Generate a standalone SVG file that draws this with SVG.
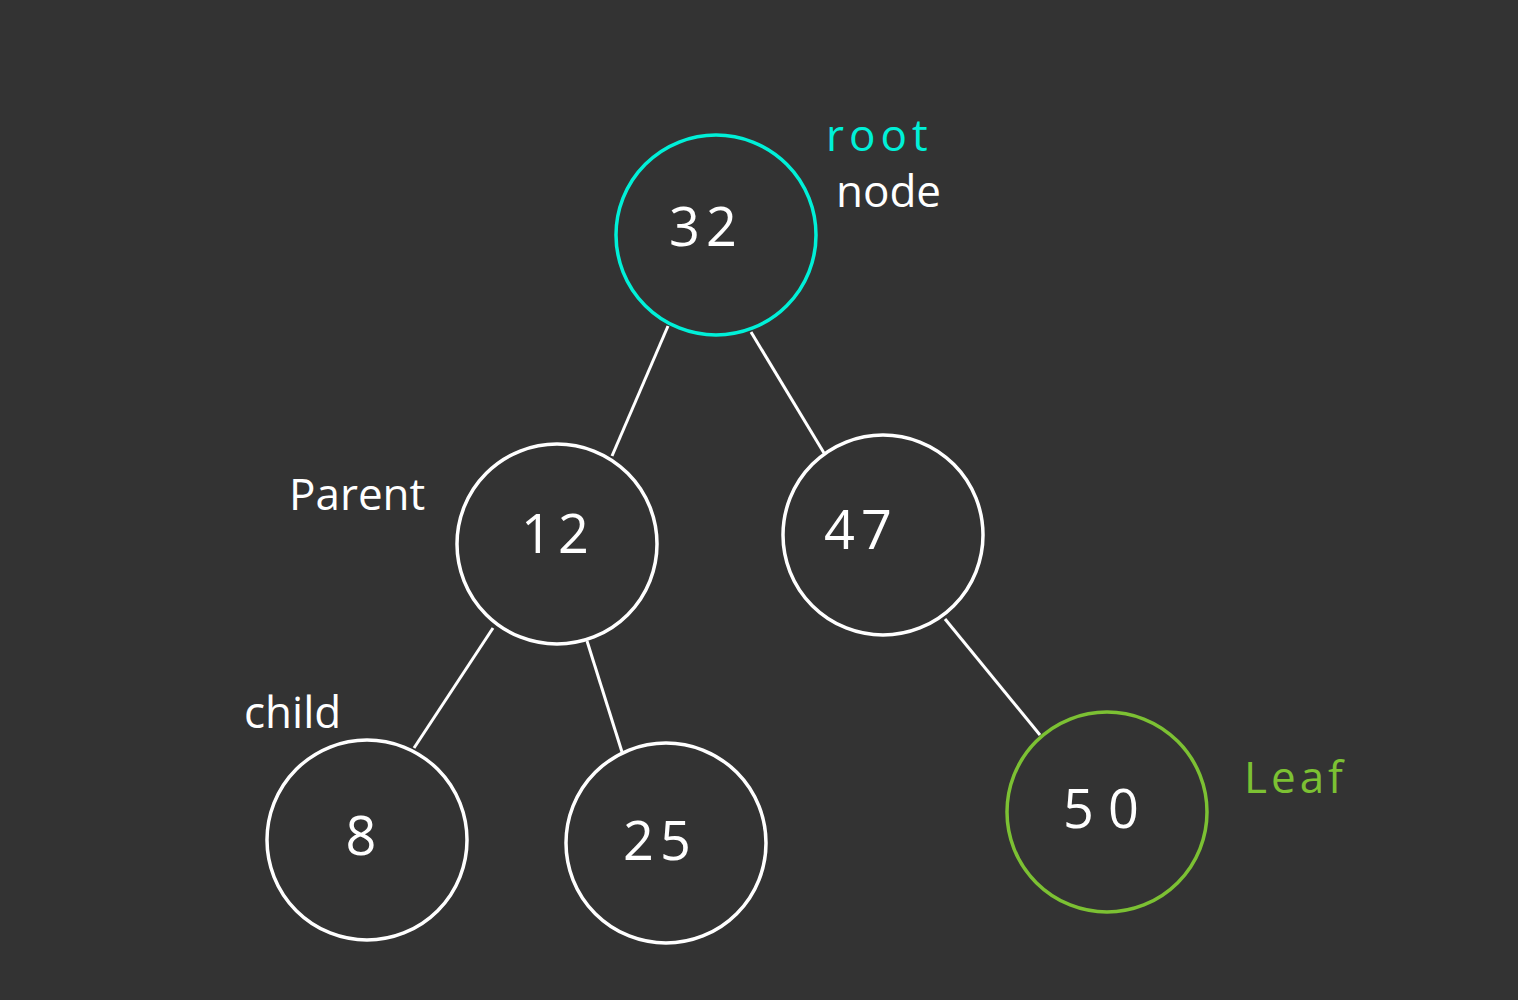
<svg xmlns="http://www.w3.org/2000/svg" width="1518" height="1000" viewBox="0 0 1518 1000">
<style>
.node{fill:none;stroke:#ffffff;stroke-width:3.5}
.num{font-family:"Open Sans","DejaVu Sans",sans-serif;font-size:54px;fill:#ffffff;text-anchor:middle;letter-spacing:6px}
.lbl{font-family:"Open Sans","DejaVu Sans",sans-serif;font-size:44px;fill:#ffffff}
.edge{stroke:#ffffff;stroke-width:3;fill:none}
</style>
<rect width="1518" height="1000" fill="#333333"/>
<g id="connectors">
<line class="edge" x1="668" y1="326" x2="612" y2="456"/>
<line class="edge" x1="751" y1="332" x2="824" y2="453"/>
<line class="edge" x1="493" y1="628" x2="414" y2="748"/>
<line class="edge" x1="587" y1="641" x2="622" y2="752"/>
<line class="edge" x1="945" y1="619" x2="1040" y2="735"/>
</g>
<g id="node-32">
<circle class="node" cx="716" cy="235" r="100" style="stroke:#00f0d8"/>
<text class="num" x="706" y="246">32</text>
</g>
<g id="node-12">
<circle class="node" cx="557" cy="544" r="100"/>
<text class="num" x="558" y="553">12</text>
</g>
<g id="node-47">
<circle class="node" cx="883" cy="535" r="100"/>
<text class="num" x="861" y="549">47</text>
</g>
<g id="node-8">
<circle class="node" cx="367" cy="840" r="100"/>
<text class="num" x="364" y="855">8</text>
</g>
<g id="node-25">
<circle class="node" cx="666" cy="843" r="100"/>
<text class="num" x="660" y="860">25</text>
</g>
<g id="node-50">
<circle class="node" cx="1107" cy="812" r="100" style="stroke:#7cc133"/>
<text class="num" x="1108" y="828" style="letter-spacing:14px">50</text>
</g>
<g id="labels">
<text class="lbl" x="826" y="151" style="fill:#00f0d8;letter-spacing:5px">root</text>
<text class="lbl" x="836" y="207">node</text>
<text class="lbl" x="289" y="510">Parent</text>
<text class="lbl" x="244" y="728">child</text>
<text class="lbl" x="1244" y="793" style="fill:#7cc133;letter-spacing:4px">Leaf</text>
</g>
</svg>
